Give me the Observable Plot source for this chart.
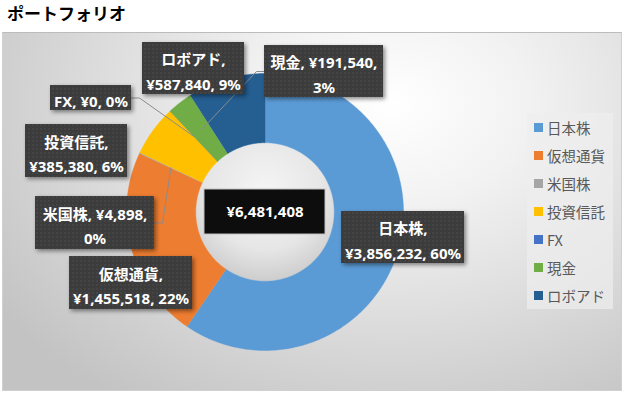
<!DOCTYPE html>
<html><head><meta charset="utf-8">
<script src="https://cdn.jsdelivr.net/npm/d3@7"></script>
<script src="https://cdn.jsdelivr.net/npm/@observablehq/plot@0.6"></script>
<style>
body{margin:0;width:624px;height:393px;overflow:hidden;background:#fff;position:relative;font-family:"Noto Sans","Noto Sans CJK JP",sans-serif}
#title{position:absolute;left:7px;top:0;height:26px;line-height:26px;font-size:17px;font-weight:bold;color:#000;font-family:"Noto Sans CJK JP",sans-serif}
#area{position:absolute;left:2px;top:32px;width:620px;height:359px;box-sizing:border-box;border:1px solid #d0d0d0;border-top-color:#bcbcbc;
 background:radial-gradient(ellipse 78% 100% at 63% 20%, #ffffff 0%, #f2f2f2 28%, #c3c3c3 100%)}
#chart{position:absolute;left:0;top:32px}
#legend{position:absolute;left:527px;top:113px;width:86px;height:196px;background:rgba(238,238,238,0.7)}
.item{position:absolute;left:7px;height:20px;display:flex;align-items:center;font-size:14.5px;color:#595959;white-space:nowrap;font-family:"Noto Sans CJK JP",sans-serif}
.sw{width:9px;height:9px;margin-right:4px;flex:none}
g[fill="url(#dots)"]{filter:drop-shadow(2px 2px 2px rgba(0,0,0,0.45))}
</style></head>
<body>
<div id="title">ポートフォリオ</div>
<div id="area"></div>
<div id="chart"></div>
<div id="legend"></div>
<script>
// ---- data ----
const categories = ["日本株","仮想通貨","米国株","投資信託","FX","現金","ロボアド"];
const values = [3856232,1455518,4898,385380,0,191540,587840];
const percents = [60,22,0,6,0,3,9];
const colors = ["#5B9BD5","#ED7D31","#A5A5A5","#FFC000","#4472C4","#70AD47","#255E91"];
// ---- label layout (px offsets of box centre from donut centre, box size, line break) ----
const labelDx = [138,-134,-170,-188.5,-174,59,-71.5];
const labelDy = [25.5,71,11,-61,-114,-140.5,-143.5];
const labelW = [123,123,119,102,81,119,102];
const labelH = [52,53,53,53,25,52,52];
const labelBreak = [1,1,2,1,0,2,1];
const leaderOn = [false,false,true,false,true,true,false];

const R = 138.5, CX = 264.5, CY = 179.5, HOLE = 0.5, MID = (1 + HOLE) / 2;
const fmt = d3.format(",");
const total = d3.sum(values);
const pie = d3.pie().sort(null).value(d => d)(values);

const slicePts = [];
pie.forEach((p, i) => {
  const span = p.endAngle - p.startAngle;
  const n = Math.max(2, Math.ceil(span / 0.01));
  for (let k = 0; k <= n; k++) {
    const a = p.startAngle + span * k / n;
    slicePts.push({name: categories[i], x: Math.sin(a), y: Math.cos(a)});
  }
  for (let k = n; k >= 0; k--) {
    const a = p.startAngle + span * k / n;
    slicePts.push({name: categories[i], x: HOLE * Math.sin(a), y: HOLE * Math.cos(a)});
  }
});

const holePts = d3.range(0, 361, 2).map(d => {
  const a = d * Math.PI / 180;
  return {x: HOLE * Math.sin(a), y: HOLE * Math.cos(a)};
});

const labels = pie.map((p, i) => {
  const parts = [categories[i] + ",", "¥" + fmt(values[i]) + ",", percents[i] + "%"];
  let text;
  if (labelBreak[i] === 1) text = parts[0] + "\n" + parts[1] + " " + parts[2];
  else if (labelBreak[i] === 2) text = parts[0] + " " + parts[1] + "\n" + parts[2];
  else text = parts.join(" ");
  const bx = labelDx[i] / R, by = -labelDy[i] / R;
  return {name: categories[i], text, bx, by, x1: bx - labelW[i] / 2 / R, x2: bx + labelW[i] / 2 / R,
          y1: by - labelH[i] / 2 / R, y2: by + labelH[i] / 2 / R};
});

const leaders = [];
pie.forEach((p, i) => {
  if (!leaderOn[i]) return;
  const a = (p.startAngle + p.endAngle) / 2;
  const ax = MID * Math.sin(a), ay = MID * Math.cos(a);
  const L = labels[i];
  const right = ax > L.bx;
  const ex = right ? L.x2 : L.x1;
  const elx = ex + (right ? 8 : -8) / R;
  leaders.push({name: categories[i], x: ex, y: L.by});
  leaders.push({name: categories[i], x: elx, y: L.by});
  leaders.push({name: categories[i], x: ax, y: ay});
});

const font = '"Noto Sans","Noto Sans CJK JP",sans-serif';
const svg = Plot.plot({
  width: 624, height: 361, margin: 0,
  style: "background: transparent; overflow: visible;",
  x: {domain: [-1, 1], range: [CX - R, CX + R], axis: null},
  y: {domain: [-1, 1], range: [CY + R, CY - R], axis: null},
  color: {domain: categories, range: colors},
  marks: [
    Plot.line(holePts, {x: "x", y: "y", fill: "url(#hole)", stroke: "none"}),
    Plot.line(slicePts, {x: "x", y: "y", z: "name", fill: "name", stroke: "name", strokeWidth: 0.4, curve: "linear"}),
    Plot.line(leaders, {x: "x", y: "y", z: "name", stroke: "#8c8c8c", strokeWidth: 1}),
    Plot.rect(labels, {x1: "x1", x2: "x2", y1: "y1", y2: "y2", fill: "url(#dots)"}),
    Plot.text(labels, {x: "bx", y: "by", text: "text", fill: "white", fontSize: 15, fontWeight: "bold",
                       lineHeight: 1.65, fontFamily: font, dy: 1}),
    Plot.rect([total], {x1: () => -60.5 / R, x2: () => 60.5 / R, y1: () => -22.5 / R, y2: () => 22.5 / R,
                        fill: "#0d0d0d", stroke: "#bfbfbf", strokeWidth: 1}),
    Plot.text([total], {x: () => 0, y: () => 0, text: d => "¥" + fmt(d), fill: "white", fontSize: 15,
                        fontWeight: "bold", fontFamily: font})
  ]
});

const defs = d3.select(svg).insert("defs", ":first-child");
const pat = defs.append("pattern").attr("id", "dots").attr("width", 4).attr("height", 4)
  .attr("patternUnits", "userSpaceOnUse");
pat.append("rect").attr("width", 4).attr("height", 4).attr("fill", "#3c3c3c");
pat.append("circle").attr("cx", 1).attr("cy", 1).attr("r", 0.7).attr("fill", "#525252");
const hg = defs.append("radialGradient").attr("id", "hole").attr("cx", "50%").attr("cy", "35%").attr("r", "65%");
hg.append("stop").attr("offset", "0%").attr("stop-color", "#f5f5f5");
hg.append("stop").attr("offset", "65%").attr("stop-color", "#e6e6e6");
hg.append("stop").attr("offset", "100%").attr("stop-color", "#cdcdcd");

document.getElementById("chart").appendChild(svg);

const legend = d3.select("#legend");
categories.forEach((c, i) => {
  const it = legend.append("div").attr("class", "item").style("top", (4 + i * 28.1) + "px");
  it.append("span").attr("class", "sw").style("background", colors[i]);
  it.append("span").text(c);
});
</script>
</body></html>
